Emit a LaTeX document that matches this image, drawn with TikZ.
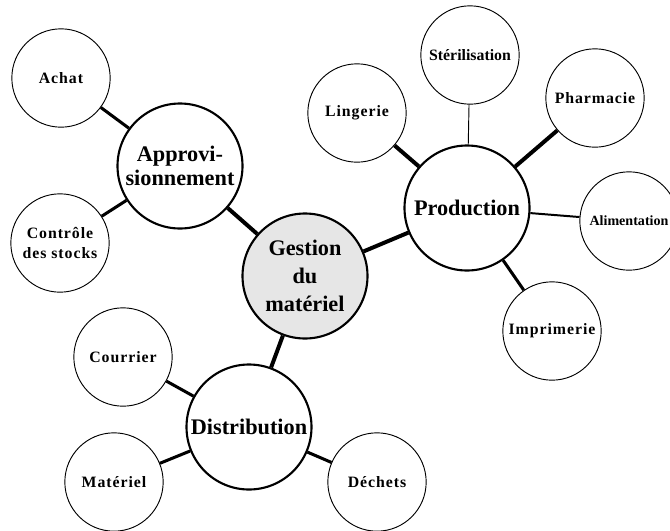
\documentclass[tikz,border=0pt]{standalone}
\usepackage{fontspec}
\setmainfont{Liberation Serif}
\newfontfamily\leaffont[LetterSpace=6]{Liberation Serif}
\usepackage{xcolor}
\definecolor{coregray}{HTML}{E6E6E6}

\begin{document}
\begin{tikzpicture}[x=0.03cm, y=-0.03cm,
  leaf/.style={draw, circle, line width=0.8pt, minimum size=2.95cm, inner sep=0pt, align=center, font=\leaffont\bfseries\fontsize{13.5}{17}\selectfont},
  tightleaf/.style={leaf, font=\bfseries\fontsize{13.5}{17}\selectfont},
  hub/.style={draw, circle, line width=1.8pt, minimum size=3.75cm, inner sep=0pt, align=center, font=\bfseries\fontsize{19}{21}\selectfont},
  link/.style={line width=2.6pt},
  heavylink/.style={line width=3.4pt},
  midlink/.style={line width=1.7pt},
  thinlink/.style={line width=0.8pt}]
  \useasboundingbox (0,0) rectangle (670,530);

  % Center node
  \node[hub, fill=coregray, font=\bfseries\fontsize{19}{24}\selectfont] (gestion) at (305,276) {Gestion\\du\\matériel};

  % Hubs around the center
  \node[hub] (appro) at (180,166) {Approvi-\\sionnement};
  \node[hub] (production) at (467,208) {Production};
  \node[hub] (distribution) at (249,427) {Distribution};

  % Leaves of Approvisionnement
  \node[leaf] (achat) at (61,78) {Achat};
  \node[leaf] (controle) at (60,243) {Contrôle\\des stocks};

  % Leaves of Production
  \node[leaf] (lingerie) at (357,113) {Lingerie};
  \node[tightleaf] (sterilisation) at (470,55) {Stérilisation};
  \node[leaf] (pharmacie) at (595,98) {Pharmacie};
  \node[tightleaf, font=\bfseries\fontsize{12}{15}\selectfont] (alimentation) at (629,221) {Alimentation};
  \node[leaf] (imprimerie) at (552,331) {Imprimerie};

  % Leaves of Distribution
  \node[leaf] (courrier) at (123,357) {Courrier};
  \node[leaf] (materiel) at (114,482) {Matériel};
  \node[leaf] (dechets) at (377,482) {Déchets};

  % Center to hubs
  \draw[heavylink] (gestion) -- (appro);
  \draw[heavylink] (gestion) -- (production);
  \draw[heavylink] (gestion) -- (distribution);

  % Hubs to leaves
  \draw[link] (appro) -- (achat);
  \draw[link] (appro) -- (controle);
  \draw[heavylink] (production) -- (lingerie);
  \draw[thinlink] (production) -- (sterilisation);
  \draw[heavylink] (production) -- (pharmacie);
  \draw[midlink] (production) -- (alimentation);
  \draw[link] (production) -- (imprimerie);
  \draw[link] (distribution) -- (courrier);
  \draw[link] (distribution) -- (materiel);
  \draw[link] (distribution) -- (dechets);
\end{tikzpicture}
\end{document}
